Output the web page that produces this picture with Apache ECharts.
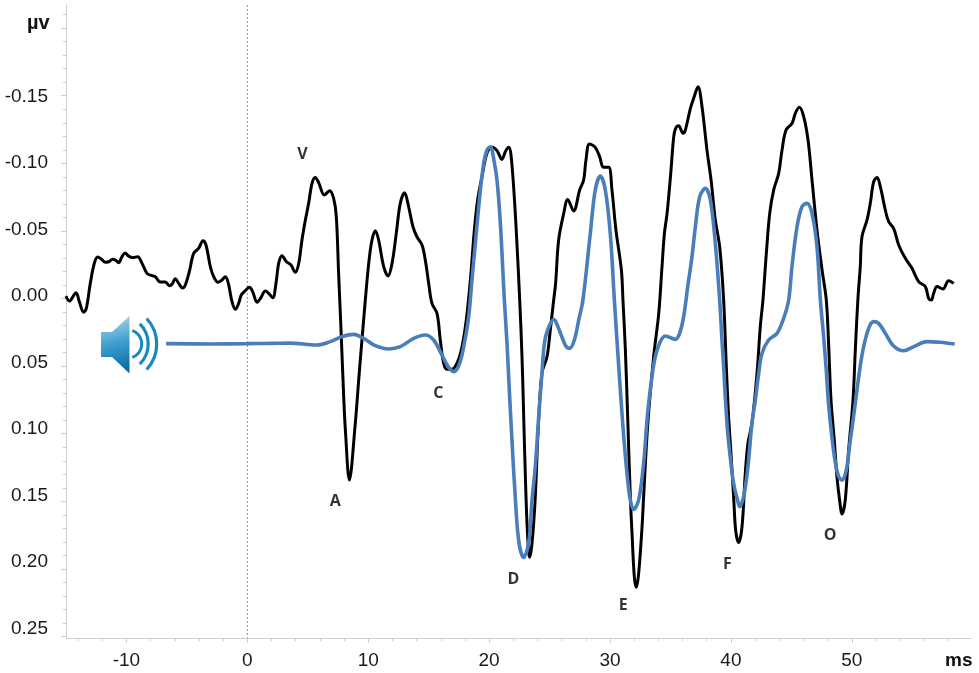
<!DOCTYPE html>
<html><head><meta charset="utf-8">
<script src="https://cdn.jsdelivr.net/npm/echarts@6/dist/echarts.min.js"></script>
<style>html,body{margin:0;padding:0;background:#fff}#c{width:979px;height:673px}</style></head>
<body><div id="c"></div>
<script>
const blackTimes=[-15,-14.72,-14.17,-13.9,-13.54,-13.32,-12.99,-12.66,-12.38,-12.08,-11.75,-11.47,-11.14,-10.92,-10.64,-10.39,-10.12,-9.82,-9.48,-9.07,-8.71,-8.3,-7.89,-7.61,-7.2,-6.78,-6.45,-6.23,-5.96,-5.68,-5.35,-5.13,-4.8,-4.44,-4.03,-3.67,-3.42,-3.06,-2.78,-2.43,-2.1,-1.82,-1.57,-1.27,-0.99,-0.72,-0.5,-0.17,0.17,0.44,0.8,1.08,1.49,1.76,2.1,2.37,2.59,2.87,3.23,3.61,3.97,4.25,4.52,4.8,5.07,5.35,5.62,5.9,6.37,6.81,7.14,7.36,7.55,7.75,7.97,8.11,8.44,8.93,9.21,9.48,9.76,10.04,10.31,10.59,10.86,11.28,11.64,11.97,12.32,12.65,13.01,13.34,13.7,14.03,14.45,14.72,15,15.27,15.69,15.96,16.24,16.52,16.93,17.4,17.76,18.11,18.45,18.78,19.05,19.41,19.82,20.24,20.65,21.06,21.34,21.62,21.81,22.08,22.3,22.53,22.72,22.86,23.05,23.2,23.35,23.55,23.82,24.04,24.37,24.79,25.06,25.34,25.5,25.75,26.17,26.5,26.99,27.49,27.82,28.01,28.3,28.78,29.14,29.47,29.89,30.16,30.49,30.94,31.07,31.27,31.46,31.68,31.82,32.01,32.18,32.37,32.65,32.78,33.11,33.61,34.03,34.3,34.5,34.72,35,35.27,35.43,35.68,36.04,36.23,36.65,36.92,37.28,37.61,38.02,38.36,38.71,39.07,39.4,39.62,39.81,40.01,40.23,40.4,40.64,40.92,41.19,41.41,41.74,42.16,42.43,42.65,42.93,43.21,43.54,43.95,44.23,44.56,45.06,45.33,45.66,46.02,46.38,46.71,47.12,47.54,47.89,48.08,48.28,48.55,48.77,48.99,49.19,49.46,49.74,50.1,50.29,50.5,50.7,50.84,51.26,51.53,51.81,52.09,52.36,52.77,53.05,53.46,53.88,54.43,54.98,55.53,56.08,56.36,56.58,56.77,57.05,57.54,58.01,58.43];
const blackValues=[-0.0018,0.0018,-0.0043,0.0023,0.0102,0.0073,-0.0112,-0.026,-0.0307,-0.0292,-0.0268,-0.0272,-0.029,-0.0285,-0.0265,-0.0305,-0.0337,-0.0314,-0.0302,-0.0309,-0.026,-0.0186,-0.0169,-0.0161,-0.0122,-0.0122,-0.0095,-0.0105,-0.0147,-0.0112,-0.0078,-0.01,-0.0198,-0.0334,-0.0371,-0.0428,-0.0396,-0.0235,-0.0161,-0.012,-0.0137,-0.0161,-0.0112,0.0023,0.008,0.0036,-0.0026,-0.0058,-0.0083,-0.0051,0.0028,0,-0.0055,-0.0038,-0.0006,-0.0112,-0.026,-0.0317,-0.0272,-0.0248,-0.0194,-0.026,-0.0433,-0.058,-0.0704,-0.0852,-0.0896,-0.0857,-0.0766,-0.0798,-0.0741,-0.0606,-0.0186,0.0233,0.0726,0.0973,0.1342,0.0923,0.0603,0.0307,0.0011,-0.026,-0.0433,-0.0502,-0.0433,-0.0235,-0.0166,-0.026,-0.0482,-0.0704,-0.0783,-0.0679,-0.0531,-0.0457,-0.0396,-0.0285,-0.0112,0.0036,0.011,0.0307,0.048,0.0524,0.0524,0.0467,0.0356,0.0159,-0.0137,-0.0507,-0.0729,-0.0901,-0.1074,-0.1118,-0.1094,-0.1029,-0.1086,-0.1118,-0.1061,-0.0753,-0.0408,0.0011,0.043,0.0874,0.1466,0.178,0.1914,0.181,0.1466,0.0997,0.0553,0.043,0.0233,0.0011,-0.0112,-0.0433,-0.063,-0.0733,-0.0647,-0.0803,-0.0877,-0.1024,-0.1143,-0.1118,-0.1049,-0.097,-0.097,-0.0803,-0.0507,-0.0211,0.0011,0.0381,0.0874,0.1466,0.1736,0.2058,0.2136,0.2033,0.1688,0.1466,0.0948,0.043,0.011,-0.0235,-0.0482,-0.063,-0.0901,-0.1197,-0.1259,-0.1278,-0.1222,-0.1246,-0.1407,-0.1481,-0.1567,-0.1419,-0.1098,-0.0876,-0.0581,-0.0383,0.0011,0.0504,0.0874,0.115,0.1475,0.172,0.1806,0.1688,0.1293,0.1071,0.0923,0.0553,0.0208,0.0011,-0.0334,-0.063,-0.0803,-0.0926,-0.1098,-0.1246,-0.1296,-0.137,-0.1414,-0.1345,-0.1172,-0.0876,-0.0507,-0.0211,0.0011,0.0332,0.0751,0.1047,0.1318,0.149,0.1594,0.149,0.112,0.0751,0.0381,0.0011,-0.0235,-0.0457,-0.0581,-0.0704,-0.0864,-0.0896,-0.0827,-0.0655,-0.0568,-0.0519,-0.0396,-0.0297,-0.0223,-0.0125,-0.0088,0,0.0011,-0.0038,-0.0088,-0.007,-0.0132,-0.0112];
const blueTimes=[-6.72,-3,0,2,3.5,5.76,6.87,7.83,8.8,9.62,10.59,11.69,12.66,13.76,14.72,15.41,16.1,16.65,17.12,17.56,17.95,18.31,18.58,18.86,19.22,19.55,19.82,20.1,20.37,20.65,20.93,21.26,21.48,21.67,21.89,22.11,22.44,22.85,23.27,23.55,23.82,24.1,24.37,24.57,24.84,25.34,25.75,26.3,26.66,27.05,27.41,27.76,28.37,28.78,29.2,29.61,30.02,30.36,30.63,30.91,31.18,31.46,31.68,31.95,32.37,32.78,33.11,33.47,33.75,34.16,34.58,35.4,35.76,36.09,36.43,36.78,37.06,37.42,37.89,38.3,38.71,39.07,39.26,39.4,39.54,39.73,40.01,40.23,40.56,40.72,41.05,41.38,41.74,42.02,42.3,42.57,43.12,43.81,44.36,44.78,45.05,45.47,45.88,46.3,46.71,47.12,47.4,47.67,47.89,48.08,48.42,48.64,48.91,49.19,49.52,49.88,50.29,50.65,50.98,51.45,51.81,52.22,52.78,53.46,54.29,55.12,56.22,57.32,58.51];
const blueValues=[0.0334,0.0336,0.0334,0.0332,0.033,0.0344,0.0319,0.0282,0.0265,0.0295,0.0349,0.0373,0.0356,0.0295,0.027,0.0307,0.0418,0.0509,0.0541,0.048,0.0332,0.0134,-0.0137,-0.0408,-0.0753,-0.1,-0.1098,-0.1123,-0.1037,-0.0877,-0.0556,0.0011,0.0332,0.0677,0.1047,0.1392,0.1786,0.1915,0.1811,0.149,0.1244,0.0874,0.0553,0.0332,0.0233,0.0154,0.0221,0.0344,0.0369,0.0307,0.0159,0.0011,-0.0482,-0.0803,-0.0906,-0.0803,-0.0482,0.0011,0.0381,0.0751,0.1071,0.1342,0.1491,0.156,0.149,0.1219,0.0849,0.0578,0.043,0.0319,0.0277,0.0302,0.0258,0.0134,-0.0088,-0.0309,-0.0531,-0.0753,-0.0815,-0.0729,-0.0408,0.0011,0.0307,0.0504,0.0735,0.0985,0.1225,0.137,0.1495,0.154,0.1466,0.1268,0.0923,0.0751,0.0553,0.0406,0.0307,0.0258,0.0147,0.0011,-0.0236,-0.0531,-0.0679,-0.0704,-0.063,-0.0383,0.0011,0.0282,0.0535,0.0785,0.1075,0.1215,0.1315,0.1343,0.1281,0.1047,0.0775,0.0529,0.0356,0.0208,0.0171,0.0184,0.0258,0.0351,0.0386,0.0356,0.0319,0.0324,0.0337];
const peakNames=['V','A','C','D','E','F','O'];
const peakTimes=[4.55,7.28,15.8,22,31.1,39.7,48.2];
const peakValues=[-0.1069,0.1498,0.0699,0.2075,0.2267,0.1964,0.175];
const xLabels=[-10,0,10,20,30,40,50];
const xMinorTicks=[-14,-12,-8,-6,-4,-2,2,4,6,8,12,14,16,18,22,24,26,28,32,34,36,38,42,44,46,48,52,54,56,58];
const yLabels=[-0.15,-0.10,-0.05,0,0.05,0.10,0.15,0.20,0.25];
const yMajorTicks=[-0.20,-0.15,-0.10,-0.05,0,0.05,0.10,0.15,0.20,0.25];
const yMinorTicks=[-0.21,-0.19,-0.18,-0.17,-0.16,-0.14,-0.13,-0.12,-0.11,-0.09,-0.08,-0.07,-0.06,-0.04,-0.03,-0.02,-0.01,0.01,0.02,0.03,0.04,0.06,0.07,0.08,0.09,0.11,0.12,0.13,0.14,0.16,0.17,0.18,0.19,0.21,0.22,0.23,0.24];
const xRange=[-15,59.86];
const yRange=[-0.2171,0.2511];
const yLabelRange=[-0.21865,0.2573];
const zip=(a,b)=>a.map((v,i)=>[v,b[i]]);
const axisColor='#cfcfcf';
const tickStyle={show:true,lineStyle:{color:axisColor,width:1}};
const chart=echarts.init(document.getElementById('c'),null,{renderer:'canvas'});
const baseFont='"Liberation Sans",Arial,sans-serif';
const boldFont='"Open Sans",sans-serif';
chart.setOption({
  animation:false,backgroundColor:'#fff',
  grid:{left:66,right:8,top:5,bottom:35,containLabel:false},
  xAxis:[
   {type:'value',position:'bottom',min:xRange[0],max:xRange[1],splitLine:{show:false},
    axisLine:{show:true,onZero:false,lineStyle:{color:axisColor,width:1}},
    axisTick:{...tickStyle,length:5,customValues:xLabels},
    axisLabel:{show:true,customValues:xLabels,fontFamily:baseFont,fontSize:19,color:'#1a1a1a',margin:13,formatter:v=>String(v),showMinLabel:true,showMaxLabel:true}},
   {type:'value',position:'bottom',min:xRange[0],max:xRange[1],splitLine:{show:false},
    axisLine:{show:false,onZero:false},
    axisTick:{...tickStyle,length:3,customValues:xMinorTicks},axisLabel:{show:false}}
  ],
  yAxis:[
   {type:'value',position:'left',inverse:true,min:yRange[0],max:yRange[1],splitLine:{show:false},
    axisLine:{show:true,onZero:false,lineStyle:{color:axisColor,width:1}},
    axisTick:{...tickStyle,length:5,customValues:yMajorTicks},axisLabel:{show:false}},
   {type:'value',position:'left',inverse:true,min:yRange[0],max:yRange[1],splitLine:{show:false},
    axisLine:{show:false,onZero:false},
    axisTick:{...tickStyle,length:3,customValues:yMinorTicks},axisLabel:{show:false}},
   {type:'value',position:'left',inverse:true,min:yLabelRange[0],max:yLabelRange[1],splitLine:{show:false},
    axisLine:{show:false,onZero:false},axisTick:{show:false},
    axisLabel:{show:true,customValues:yLabels,fontFamily:baseFont,fontSize:19,color:'#1a1a1a',margin:18,formatter:v=>v.toFixed(2)}}
  ],
  series:[
   {name:'zero',type:'line',symbol:'none',silent:true,data:[[0,yRange[0]],[0,yRange[1]]],
    lineStyle:{color:'#8f8f8f',width:1,type:[2,2]}},
   {name:'response',type:'line',symbol:'none',smooth:0.35,data:zip(blackTimes,blackValues),
    lineStyle:{color:'#000',width:3},z:3},
   {name:'stimulus',type:'line',symbol:'none',smooth:0.35,data:zip(blueTimes,blueValues),
    lineStyle:{color:'#4a7ebb',width:3.6},z:4},
   {name:'peaks',type:'scatter',symbolSize:1,itemStyle:{color:'rgba(0,0,0,0)'},z:5,
    data:peakNames.map((n,i)=>({name:n,value:[peakTimes[i],peakValues[i]]})),
    label:{show:true,position:'inside',formatter:p=>p.name,fontFamily:boldFont,fontWeight:'bold',fontSize:16,color:'#000'}}
  ],
  graphic:[
   {type:'text',left:27,top:13,style:{text:'µv',font:'bold 20px '+baseFont,fill:'#111'}},
   {type:'text',left:945,top:651,style:{text:'ms',font:'bold 19px '+baseFont,fill:'#111'}},
   {type:'polygon',shape:{points:[[101,332],[112,332],[129.5,316],[129.5,373.5],[112,357],[101,357]]},
    style:{fill:new echarts.graphic.LinearGradient(0,0,0.5,1,[{offset:0,color:'#b9dcf0'},{offset:0.5,color:'#3f9fcf'},{offset:1,color:'#066a9f'}])}},
   {type:'arc',shape:{cx:127.6,cy:344,r:14.1,startAngle:-1.23,endAngle:1.23},style:{stroke:'#1b87bd',fill:null,lineWidth:3}},
   {type:'arc',shape:{cx:120,cy:344,r:28.2,startAngle:-0.79,endAngle:0.79},style:{stroke:'#1b87bd',fill:null,lineWidth:3.2}},
   {type:'arc',shape:{cx:119.2,cy:344,r:37.5,startAngle:-0.748,endAngle:0.748},style:{stroke:'#1b87bd',fill:null,lineWidth:3.2}}
  ]
});
</script></body></html>
